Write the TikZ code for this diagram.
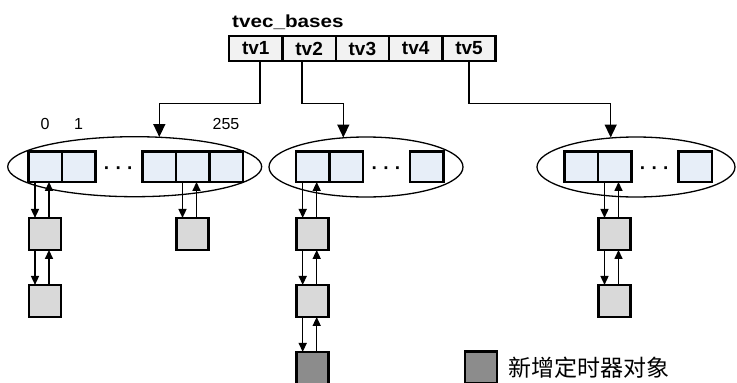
\documentclass[tikz,border=0pt]{standalone}
\usepackage{fontspec}
\setmainfont{Liberation Sans}
\newfontfamily\titlefont[FakeStretch=1.18]{Liberation Sans}
\newfontfamily\cjkfont{Noto Sans CJK SC}
\usepackage{xcolor}
\usetikzlibrary{arrows.meta,positioning,shapes.geometric}
\definecolor{VectorCellBackground}{HTML}{F2F2F2}
\definecolor{SlotCellBackground}{HTML}{E7EEF8}
\definecolor{TimerBackground}{HTML}{D9D9D9}
\definecolor{NewTimerBackground}{HTML}{8C8C8C}
\tikzstyle{VectorCell}=[draw,line width=2.5pt,fill=VectorCellBackground,minimum width=53.3pt,minimum height=25pt,inner sep=0pt,outer sep=0pt,font=\bfseries\fontsize{19}{19}\selectfont]
\tikzstyle{SlotCell}=[draw,line width=2.5pt,fill=SlotCellBackground,minimum width=33.5pt,minimum height=30.5pt,inner sep=0pt,outer sep=0pt]
\tikzstyle{TimerNode}=[draw,line width=2.5pt,fill=TimerBackground,minimum size=32pt,inner sep=0pt,outer sep=0pt]
\tikzstyle{NewTimerNode}=[TimerNode,fill=NewTimerBackground]
\tikzstyle{SlotRing}=[draw,ellipse,line width=1.3pt,inner sep=0pt,minimum height=60pt]
\tikzstyle{SlotIndex}=[inner sep=0pt,font=\fontsize{16}{16}\selectfont]
\tikzstyle{SlotDots}=[inner sep=0pt,yshift=-4pt,font=\bfseries\fontsize{19}{19}\selectfont]
\tikzset{
feed/.style={-{Triangle[length=13pt,width=12pt]},line width=1.5pt},
link/.style={-{Triangle[length=9pt,width=8pt]},line width=1.5pt}
}

\begin{document}
\begin{tikzpicture}[x=1pt,y=-1pt,node distance=0pt]
  \useasboundingbox (0,0) rectangle (737,383);

  % the five vectors
  \node[anchor=base west,inner sep=0pt,font=\titlefont\bfseries\fontsize{17.5}{17.5}\selectfont](Title) at (232,27.7){tvec\_bases};
  \node[VectorCell](tv1) at (255.8,48.5){tv1};
  \node[VectorCell,right=of tv1](tv2){tv2};
  \node[VectorCell,right=of tv2](tv3){tv3};
  \node[VectorCell,right=of tv3](tv4){tv4};
  \node[VectorCell,right=of tv4](tv5){tv5};

  % slot arrays
  \node[SlotRing,minimum width=254pt](slots1) at (134.7,166.7){};
  \node[SlotCell](l1s0) at (45,166.7){};
  \node[SlotCell,right=of l1s0](l1s1){};
  \node[SlotCell,right=47pt of l1s1](l1s253){};
  \node[SlotCell,right=of l1s253](l1s254){};
  \node[SlotCell,right=of l1s254](l1s255){};
  \path (l1s1) -- node[SlotDots](dots1){· · ·} (l1s253);
  \node[SlotIndex,above=22pt of l1s0](idx0){0};
  \node[SlotIndex,above=22pt of l1s1](idx1){1};
  \node[SlotIndex,above=22pt of l1s255](idx255){255};

  \node[SlotRing,minimum width=194pt](slots2) at (366,167){};
  \node[SlotCell](l2s0) at (312.7,166.7){};
  \node[SlotCell,right=of l2s0](l2s1){};
  \node[SlotCell,right=47pt of l2s1](l2s63){};
  \path (l2s1) -- node[SlotDots](dots2){· · ·} (l2s63);

  \node[SlotRing,minimum width=198pt](slots5) at (636,167){};
  \node[SlotCell](l5s0) at (581,166.7){};
  \node[SlotCell,right=of l5s0](l5s1){};
  \node[SlotCell,right=47pt of l5s1](l5s63){};
  \path (l5s1) -- node[SlotDots](dots5){· · ·} (l5s63);

  % timer lists
  \node[TimerNode,below=36pt of l1s0](l1s0n1){};
  \node[TimerNode,below=35pt of l1s0n1](l1s0n2){};
  \node[TimerNode,below=36pt of l1s254](l1s254n1){};
  \node[TimerNode,below=36pt of l2s0](l2s0n1){};
  \node[TimerNode,below=35pt of l2s0n1](l2s0n2){};
  \node[NewTimerNode,below=35pt of l2s0n2](l2s0new){};
  \node[TimerNode,below=36pt of l5s1](l5s1n1){};
  \node[TimerNode,below=35pt of l5s1n1](l5s1n2){};

  \foreach \upper/\lower in {l1s0/l1s0n1,l1s0n1/l1s0n2,l1s254/l1s254n1,l2s0/l2s0n1,l2s0n1/l2s0n2,l2s0n2/l2s0new,l5s1/l5s1n1,l5s1n1/l5s1n2}{
    \draw[link] ([xshift=-10pt]\upper.south) -- ([xshift=-10pt]\lower.north);
    \draw[link] ([xshift=4pt]\lower.north) -- ([xshift=4pt]\upper.south);
  }

  % vector to slot array
  \coordinate (bus) at (0,103.3);
  \coordinate (drop1) at (159.3,137);
  \coordinate (drop2) at (343.3,137.5);
  \coordinate (drop5) at (610.7,137.5);
  \draw[feed] ([xshift=4pt]tv1.south) |- (drop1 |- bus) -- (drop1);
  \draw[feed] ([xshift=-7pt]tv2.south) |- (drop2 |- bus) -- (drop2);
  \draw[feed] (tv5.south) |- (drop5 |- bus) -- (drop5);

  % legend
  \node[NewTimerNode](LegendBox) at (480.8,367.7){};
  \node[right=11pt of LegendBox,inner sep=0pt,font=\cjkfont\fontsize{23}{23}\selectfont](LegendText){新增定时器对象};
\end{tikzpicture}
\end{document}
